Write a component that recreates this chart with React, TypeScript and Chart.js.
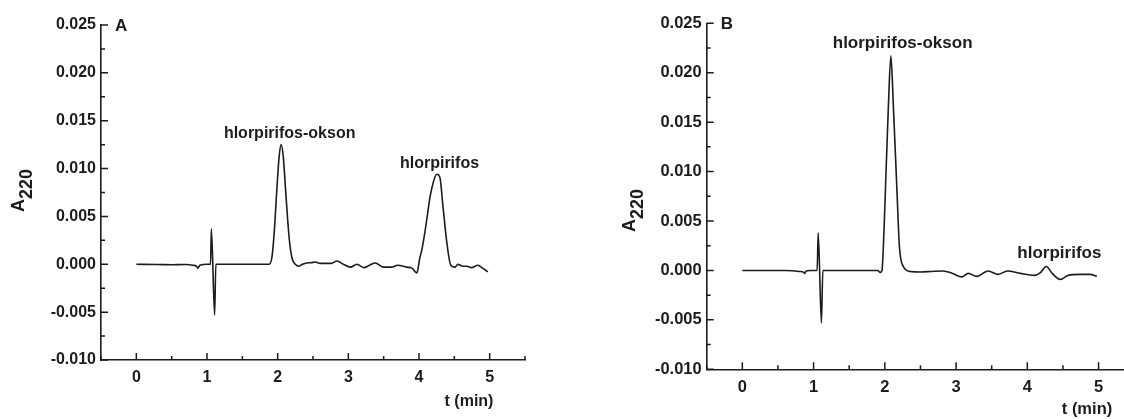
import React, { useEffect, useRef } from "react";
import { Chart, registerables } from "chart.js";

Chart.register(...registerables);

// ---- axes ----
const X_MIN = -0.5;
const X_MAX = 5.5;
const Y_MIN = -0.01;
const Y_MAX = 0.025;
const X_TICKS = [0, 1, 2, 3, 4, 5];
const X_MINOR = [-0.5, 0.5, 1.5, 2.5, 3.5, 4.5, 5.5];
const Y_TICKS = [-0.01, -0.005, 0, 0.005, 0.01, 0.015, 0.02, 0.025];
const Y_MINOR = [-0.0075, -0.0025, 0.0025, 0.0075, 0.0125, 0.0175, 0.0225];
const X_TITLE = "t (min)";

// ---- panel A data ----
const timeA = [
  0, 0.3, 0.5, 0.7, 0.8, 0.85, 0.87, 0.9, 1.0, 1.05, 1.062, 1.108, 1.125, 1.2, 1.5, 1.85,
  1.88, 1.92, 1.95, 1.99, 2.02, 2.05, 2.08, 2.11, 2.14, 2.17, 2.205, 2.25, 2.3, 2.35, 2.41,
  2.47, 2.535, 2.6, 2.68, 2.76, 2.84, 2.93, 3.03, 3.12, 3.22, 3.3, 3.38, 3.5, 3.61, 3.7,
  3.825, 3.9, 3.97, 4.01, 4.04, 4.08, 4.12, 4.155, 4.2, 4.25, 4.295, 4.34, 4.39, 4.45, 4.51,
  4.55, 4.62, 4.68, 4.74, 4.835, 4.9, 4.975,
];
const absA = [
  0, -0.00002, -0.00005, -0.00003, -0.0001, -0.0002, -0.0004, -0.0001, 0, 0, 0.0037, -0.0053, 0, 0, 0, 0,
  0, 0.0008, 0.0032, 0.008, 0.0112, 0.0125, 0.0112, 0.008, 0.0048, 0.0022, 0.0006, 0, -0.0002, 0, 0.00014,
  0.00016, 0.00024, 0.0001, 0.0001, 0.0001, 0.00035, 0, -0.0003, 0, -0.00035, -0.0001, 0.00014, -0.0003, -0.0003, -0.0001,
  -0.0003, -0.0004, -0.0009, 0.0006, 0.0015, 0.0032, 0.0052, 0.007, 0.0085, 0.0094, 0.0091, 0.006, 0.0025, -0.0001, -0.0003,
  0, -0.0002, -0.0002, -0.00035, -0.0001, -0.0004, -0.0008,
];
const peakNamesA = ["hlorpirifos-okson", "hlorpirifos"];
const peakTimeA = [2.17, 4.29];
const peakAbsA = [0.0137, 0.0105];

// ---- panel B data ----
const timeB = [
  0, 0.6, 0.8, 0.86, 0.875, 0.89, 0.95, 1.05, 1.065, 1.11, 1.13, 1.5, 1.9, 1.935, 1.96, 1.98,
  2.0, 2.05, 2.085, 2.12, 2.17, 2.205, 2.26, 2.355, 2.5, 2.65, 2.82, 2.95, 3.08, 3.17, 3.29,
  3.45, 3.59, 3.72, 3.9, 4.1, 4.18, 4.265, 4.35, 4.46, 4.575, 4.74, 4.88, 4.975,
];
const absB = [
  0, 0, -0.0001, -0.0002, -0.0003, -0.0001, 0, 0, 0.0038, -0.0053, 0, 0, 0, -0.0002, 0, 0.0025,
  0.0064, 0.0166, 0.0217, 0.0166, 0.0081, 0.0024, 0.0004, -0.0001, -0.00015, -0.0001, -0.00005, -0.0003, -0.00065, -0.0003, -0.0006,
  -0.00005, -0.0004, -0.00005, -0.0003, -0.0005, -0.00025, 0.0004, -0.0003, -0.0009, -0.0005, -0.0004, -0.0004, -0.0006,
];
const peakNamesB = ["hlorpirifos-okson", "hlorpirifos"];
const peakTimeB = [2.25, 4.45];
const peakAbsB = [0.023, 0.00172];

const FONT = "'Liberation Sans', Arial, Helvetica, sans-serif";
const INK = "#1c1c1c";

type Panel = {
  letter: string;
  t: number[];
  v: number[];
  names: string[];
  nt: number[];
  nv: number[];
  canvasLeft: number;
  canvasWidth: number;
  axisLeft: number;
  padTop: number;
  padRight: number;
  xAxisHeight: number;
  tickSize: number;
  noteSize: number;
  titleX: number;
  titleY: number;
  xTitleX: number;
  xTitleY: number;
};

const PANELS: Panel[] = [
  {
    letter: "A", t: timeA, v: absA, names: peakNamesA, nt: peakTimeA, nv: peakAbsA,
    canvasLeft: 0, canvasWidth: 562, axisLeft: 101, padTop: 25, padRight: 37, xAxisHeight: 59,
    tickSize: 16, noteSize: 16, titleX: 19, titleY: 190.5, xTitleX: 469, xTitleY: 402,
  },
  {
    letter: "B", t: timeB, v: absB, names: peakNamesB, nt: peakTimeB, nv: peakAbsB,
    canvasLeft: 562, canvasWidth: 590, axisLeft: 144.7, padTop: 23.3, padRight: 17.8, xAxisHeight: 49.7,
    tickSize: 16.5, noteSize: 17, titleX: 68.5, titleY: 210.5, xTitleX: 1087 - 562, xTitleY: 409,
  },
];

function buildChart(canvas: HTMLCanvasElement, p: Panel) {
  const decor = {
    id: "decor",
    afterDraw(chart: any) {
      const ctx = chart.ctx as CanvasRenderingContext2D;
      const xs = chart.scales.x;
      const ys = chart.scales.y;
      const a = chart.chartArea;
      ctx.save();
      ctx.strokeStyle = INK;
      ctx.lineWidth = 1.5;
      ctx.beginPath();
      X_TICKS.forEach((v) => {
        const x = xs.getPixelForValue(v);
        ctx.moveTo(x, a.bottom);
        ctx.lineTo(x, a.bottom - 7);
      });
      X_MINOR.forEach((v) => {
        const x = xs.getPixelForValue(v);
        ctx.moveTo(x, a.bottom);
        ctx.lineTo(x, a.bottom - 4);
      });
      Y_TICKS.forEach((v) => {
        const y = ys.getPixelForValue(v);
        ctx.moveTo(a.left, y);
        ctx.lineTo(a.left + 7, y);
      });
      Y_MINOR.forEach((v) => {
        const y = ys.getPixelForValue(v);
        ctx.moveTo(a.left, y);
        ctx.lineTo(a.left + 4, y);
      });
      ctx.stroke();

      ctx.fillStyle = INK;
      // peak names
      ctx.font = `bold ${p.noteSize}px ${FONT}`;
      ctx.textAlign = "center";
      ctx.textBaseline = "middle";
      p.names.forEach((n, i) => {
        ctx.fillText(n, xs.getPixelForValue(p.nt[i]), ys.getPixelForValue(p.nv[i]));
      });
      // panel letter
      ctx.font = `bold 17px ${FONT}`;
      ctx.textAlign = "left";
      ctx.fillText(p.letter, a.left + 14, ys.getPixelForValue(Y_MAX) + 1);
      // x title
      ctx.font = `bold ${p.tickSize}px ${FONT}`;
      ctx.textAlign = "center";
      ctx.fillText(X_TITLE, p.xTitleX, p.xTitleY);
      // y title A220 (rotated)
      ctx.translate(p.titleX, p.titleY);
      ctx.rotate(-Math.PI / 2);
      ctx.font = `bold 18px ${FONT}`;
      const wA = ctx.measureText("A").width;
      const wS = ctx.measureText("220").width;
      const start = -(wA + wS) / 2;
      ctx.textAlign = "left";
      ctx.fillText("A", start, 0);
      ctx.fillText("220", start + wA, 8);
      ctx.restore();
    },
  };

  return new Chart(canvas, {
    type: "line",
    data: {
      datasets: [
        {
          data: p.t.map((t, i) => ({ x: t, y: p.v[i] })),
          borderColor: INK,
          borderWidth: 1.6,
          pointRadius: 0,
          fill: false,
          cubicInterpolationMode: "monotone",
        },
      ],
    },
    options: {
      animation: false,
      responsive: false,
      devicePixelRatio: 1,
      events: [],
      layout: { padding: { left: 0, top: p.padTop, right: p.padRight, bottom: 0 } },
      plugins: { legend: { display: false }, tooltip: { enabled: false }, title: { display: false } },
      scales: {
        x: {
          type: "linear",
          min: X_MIN,
          max: X_MAX,
          afterBuildTicks: (s: any) => {
            s.ticks = X_TICKS.map((value) => ({ value }));
          },
          afterFit: (s: any) => {
            s.height = p.xAxisHeight;
          },
          grid: { display: false, drawTicks: false },
          border: { display: true, color: INK, width: 1.6 },
          ticks: {
            color: INK,
            padding: 8,
            maxRotation: 0,
            autoSkip: false,
            font: { family: FONT, size: p.tickSize, weight: "bold" },
            callback: (v: any) => String(v),
          },
        },
        y: {
          type: "linear",
          min: Y_MIN,
          max: Y_MAX,
          afterBuildTicks: (s: any) => {
            s.ticks = Y_TICKS.map((value) => ({ value }));
          },
          afterFit: (s: any) => {
            s.width = p.axisLeft;
          },
          grid: { display: false, drawTicks: false },
          border: { display: true, color: INK, width: 1.6 },
          ticks: {
            color: INK,
            padding: 5,
            autoSkip: false,
            font: { family: FONT, size: p.tickSize, weight: "bold" },
            callback: (v: any) => Number(v).toFixed(3),
          },
        },
      },
    },
    plugins: [decor],
  } as any);
}

function PanelCanvas({ p }: { p: Panel }) {
  const ref = useRef<HTMLCanvasElement | null>(null);
  useEffect(() => {
    if (!ref.current) return;
    const chart = buildChart(ref.current, p);
    return () => chart.destroy();
  }, [p]);
  return (
    <canvas
      ref={ref}
      width={p.canvasWidth}
      height={419}
      style={{ position: "absolute", left: p.canvasLeft, top: 0, width: p.canvasWidth, height: 419 }}
    />
  );
}

export default function App() {
  return (
    <div
      style={{
        position: "fixed",
        left: 0,
        top: 0,
        width: 1124,
        height: 419,
        overflow: "hidden",
        background: "#ffffff",
      }}
    >
      {PANELS.map((p) => (
        <PanelCanvas key={p.letter} p={p} />
      ))}
    </div>
  );
}
